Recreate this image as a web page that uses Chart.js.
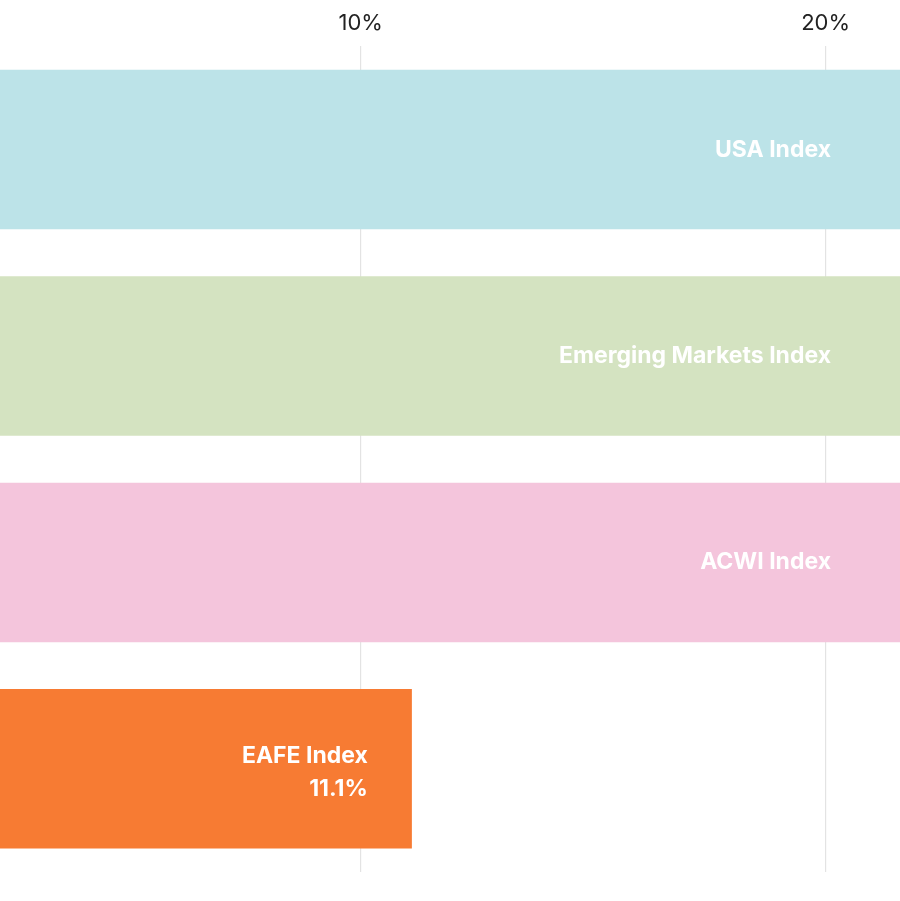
<!DOCTYPE html>
<html>
<head>
<meta charset="utf-8">
<script src="https://cdn.jsdelivr.net/npm/chart.js@4"></script>
<style>
  html, body { margin: 0; padding: 0; background: #fff; }
  #wrap { width: 900px; height: 901px; }
</style>
</head>
<body>
<div id="wrap"><canvas id="chart"></canvas></div>
<script>
// Chart data
const categories = ["USA Index", "Emerging Markets Index", "ACWI Index", "EAFE Index"];
const returns = [25, 25, 25, 11.1]; // first three run past the visible range
const barColors = ["#bce3e8", "#d4e3c1", "#f4c5dc", "#f77b33"];
const tickValues = [10, 20];

// Draws white labels inside the bars
const barLabels = {
    id: "barLabels",
    afterDatasetsDraw(chart) {
        const ctx = chart.ctx;
        const area = chart.chartArea;
        const meta = chart.getDatasetMeta(0);
        ctx.save();
        ctx.fillStyle = "#ffffff";
        ctx.font = "bold 23px Inter";
        ctx.textAlign = "right";
        ctx.textBaseline = "middle";
        meta.data.forEach((bar, i) => {
            if (bar.x > area.right) {
                ctx.fillText(categories[i], area.right - 69, bar.y);
            } else {
                const right = bar.x - 44;
                ctx.fillText(categories[i], right, bar.y - 13);
                ctx.fillText(returns[i].toFixed(1) + "%", right, bar.y + 20);
            }
        });
        ctx.restore();
    }
};

new Chart(document.getElementById("chart"), {
    type: "bar",
    data: {
        labels: categories,
        datasets: [{
            data: returns,
            backgroundColor: barColors,
            barPercentage: 0.773,
            categoryPercentage: 1
        }]
    },
    options: {
        indexAxis: "y",
        responsive: true,
        maintainAspectRatio: false,
        animation: false,
        layout: { padding: { top: 0, bottom: 29, left: 0, right: 0 } },
        plugins: { legend: { display: false }, tooltip: { enabled: false } },
        scales: {
            x: {
                position: "top",
                min: 2.24,
                max: 21.6,
                afterBuildTicks: (axis) => { axis.ticks = tickValues.map(v => ({ value: v })); },
                grid: { color: "#e3e3e3", drawTicks: false, lineWidth: 1.2 },
                border: { display: false },
                ticks: {
                    color: "#222",
                    font: { family: "Inter", size: 22 },
                    padding: 10,
                    callback: (v) => v + "%"
                }
            },
            y: {
                display: false
            }
        }
    },
    plugins: [barLabels]
});
</script>
</body>
</html>
